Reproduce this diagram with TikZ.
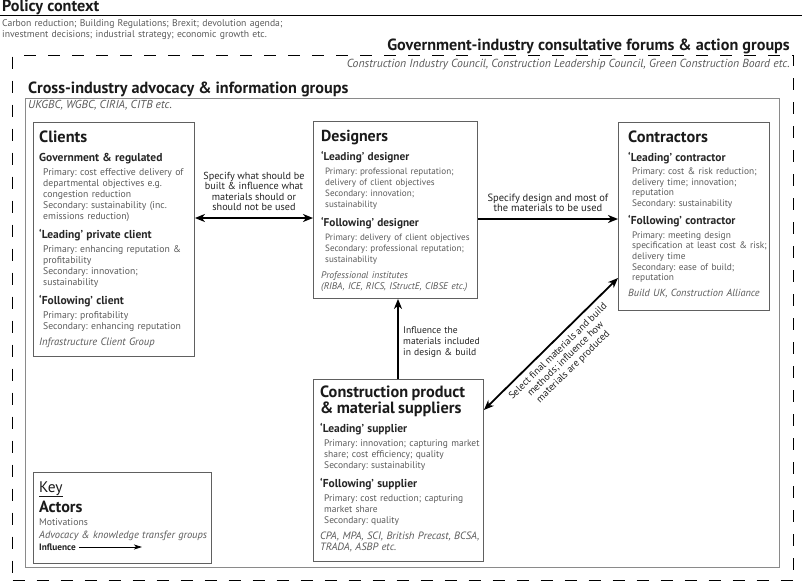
\documentclass[tikz,border=0pt]{standalone}
\usepackage{fontspec}
\setmainfont{PT Sans}
\usetikzlibrary{arrows.meta}
\frenchspacing
\definecolor{ttlc}{HTML}{1A1A1A}
\definecolor{hdc}{HTML}{262626}
\definecolor{bodyc}{HTML}{5A5A5A}
\definecolor{boxc}{HTML}{606060}
\definecolor{outc}{HTML}{8A8A8A}
\definecolor{labc}{HTML}{222222}
\newcommand\tsz{16.3}
\newcommand\hsz{11.5}
\newcommand\bsz{9.7}
\newcommand\fsz{10.6}
\newcommand\bskip{11}
\newcommand\bpre{3.5pt}
\newcommand{\Ttl}[1]{{\fontsize{\tsz}{16}\selectfont\bfseries\color{ttlc}#1\par}}
\newcommand{\Hd}[2][18.5pt]{{\fontsize{\hsz}{#1}\selectfont\bfseries\color{hdc}#2\par}}
\newcommand{\Bd}[1]{\vspace{\bpre}{\fontsize{\bsz}{\bskip}\selectfont\color{bodyc}\leftskip=4pt\relax #1\par}}
\newcommand{\Ft}[1]{\vspace{5pt}{\fontsize{\fsz}{11}\selectfont\itshape\color{bodyc}#1\par}}
\begin{document}
\begin{tikzpicture}[x=1pt,y=-1pt,
  actorbox/.style={draw=boxc, line width=0.9pt, anchor=north west, inner sep=0pt},
  boxtext/.style={anchor=base west, inner sep=0pt, align=left, text width=220pt},
  flow/.style={line width=1.8pt, draw=black, -{Stealth[length=10pt,width=8pt,inset=3pt]}},
  flowboth/.style={line width=1.8pt, draw=black, {Stealth[length=10pt,width=8pt,inset=3pt]}-{Stealth[length=10pt,width=8pt,inset=3pt]}},
  lab/.style={font=\fontsize{10.2}{10.6}\selectfont, text=labc, inner sep=0pt},
  keyarrow/.style={line width=0.8pt, -{Stealth[length=8pt,width=5pt,inset=2pt]}}
]
\useasboundingbox (0,0) rectangle (802,587);

% header
\node[anchor=base west, inner sep=0pt, font=\fontsize{16.2}{17}\selectfont\bfseries, text=ttlc] (policy) at (2,11.5) {Policy context};
\draw[line width=1pt] (0,15.7) -- (802,15.7);
\node[anchor=base west, inner sep=0pt, align=left, text width=400pt, font=\fontsize{9.7}{10.7}\selectfont, text=bodyc] (policytext) at (2,26.7)
  {Carbon reduction; Building Regulations; Brexit; devolution agenda;\\investment decisions; industrial strategy; economic growth etc.};

% forums (dashed)
\node[draw=black, line width=1.3pt, dash pattern=on 12pt off 12pt, anchor=north west, inner sep=0pt,
  minimum width=781pt, minimum height=525pt] (forum) at (12,55) {};
\node[anchor=base east, inner sep=0pt, font=\fontsize{16.2}{17}\selectfont\bfseries, text=ttlc] (forumtitle) at (790,50)
  {Government-industry consultative forums \& action groups};
\node[anchor=base east, inner sep=0pt, font=\fontsize{11.7}{12}\selectfont\itshape, text=bodyc] (forumtext) at (790,67)
  {Construction Industry Council, Construction Leadership Council, Green Construction Board etc.};

% cross-industry
\node[anchor=base west, inner sep=0pt, font=\fontsize{16.2}{17}\selectfont\bfseries, text=ttlc] (crosstitle) at (28,93)
  {Cross-industry advocacy \& information groups};
\node[draw=outc, line width=0.9pt, anchor=north west, inner sep=0pt,
  minimum width=754pt, minimum height=469pt] (cross) at (25,98) {};
\node[anchor=base west, inner sep=0pt, font=\fontsize{11.5}{12}\selectfont\itshape, text=bodyc] (crosstext) at (28,108.5)
  {UKGBC, WGBC, CIRIA, CITB etc.};

% actor boxes
\node[actorbox, minimum width=161pt, minimum height=234pt] (clients) at (33,122) {};
\node[actorbox, minimum width=164pt, minimum height=177pt] (designers) at (313,121) {};
\node[actorbox, minimum width=151pt, minimum height=188pt] (contractors) at (618,122) {};
\node[actorbox, minimum width=170pt, minimum height=182pt] (suppliers) at (313,379) {};
\node[actorbox, minimum width=178pt, minimum height=91pt] (key) at (33,472) {};

\node[boxtext] (clientstext) at (39,142) {%
\Ttl{Clients}
\Hd[19pt]{Government \& regulated}
\Bd{Primary: cost effective delivery of\\departmental objectives e.g.\\congestion reduction\\Secondary: sustainability (inc.\\emissions reduction)}
\Hd{‘Leading’ private client}
\Bd{Primary: enhancing reputation \&\\profitability\\Secondary: innovation;\\sustainability}
\Hd{‘Following’ client}
\Bd{Primary: profitability\\Secondary: enhancing reputation}
\Ft{Infrastructure Client Group}};

\node[boxtext] (designerstext) at (321,141) {%
\renewcommand\bsz{9.1}\renewcommand\fsz{9.6}\renewcommand\tsz{15.9}\renewcommand\hsz{11.3}%
\Ttl{Designers}
\Hd[19pt]{‘Leading’ designer}
\Bd{Primary: professional reputation;\\delivery of client objectives\\Secondary: innovation;\\sustainability}
\Hd{‘Following’ designer}
\Bd{Primary: delivery of client objectives\\Secondary: professional reputation;\\sustainability}
\Ft{Professional institutes\\(RIBA, ICE, RICS, IStructE, CIBSE etc.)}};

\node[boxtext] (contractorstext) at (628,142) {%
\renewcommand\bskip{10.7}\renewcommand\bpre{2.8pt}\renewcommand\bsz{9.4}\renewcommand\fsz{10.3}%
\Ttl{Contractors}
\Hd[19pt]{‘Leading’ contractor}
\Bd{Primary: cost \& risk reduction;\\delivery time; innovation;\\reputation\\Secondary: sustainability}
\Hd[18pt]{‘Following’ contractor}
\Bd{Primary: meeting design\\specification at least cost \& risk;\\delivery time\\Secondary: ease of build;\\reputation}
\Ft{Build UK, Construction Alliance}};

\node[boxtext] (supplierstext) at (320,397) {%
\renewcommand\bsz{9.5}%
\Ttl{Construction product\\\& material suppliers}
\Hd[19pt]{‘Leading’ supplier}
\Bd{Primary: innovation; capturing market\\share; cost efficiency; quality\\Secondary: sustainability}
\Hd{‘Following’ supplier}
\Bd{Primary: cost reduction; capturing\\market share\\Secondary: quality}
\Ft{CPA, MPA, SCI, British Precast, BCSA,\\TRADA, ASBP etc.}};

% key
\node[boxtext] (keytext) at (39,492) {%
{\fontsize{15.4}{16}\selectfont\color{ttlc}\underline{Key}\par}
{\fontsize{16.2}{20}\selectfont\bfseries\color{ttlc}Actors\par}
{\fontsize{9.7}{13}\selectfont\color{bodyc}Motivations\par}
{\fontsize{10.5}{13}\selectfont\itshape\color{bodyc}Advocacy \& knowledge transfer groups\par}};
\node[anchor=base west, inner sep=0pt, font=\fontsize{9.3}{10}\selectfont\bfseries, text=labc] (infl) at (39,550) {Influence};
\coordinate (keyend) at (142,547);
\draw[keyarrow] ([xshift=3pt]infl.east |- keyend) -- (keyend);

% connectors
\draw[flowboth] (clients.east |- 0,218) -- (designers.west |- 0,218)
  node[midway, lab, above=6pt, align=center] (lab1) {Specify what should be\\built \& influence what\\materials should or\\should not be used};
\draw[flow] (designers.east |- 0,219) -- (contractors.west |- 0,219)
  node[midway, lab, font=\fontsize{10.5}{10.6}\selectfont, above=6pt, align=center] (lab2) {Specify design and most of\\the materials to be used};
\draw[flow] (suppliers.north -| 398,0) -- (designers.south -| 398,0);
\node[lab, font=\fontsize{9.6}{11}\selectfont, anchor=base west, align=left, text width=90pt] (lab3) at (403,333) {Influence the\\materials included\\in design \& build};
\draw[flowboth] (suppliers.east |- 0,410) -- (contractors.west |- 0,278)
  node[midway, lab, font=\fontsize{10}{10.8}\selectfont, rotate=44.35, anchor=north, inner sep=5pt, align=center] (lab4) {Select final materials and build\\methods; influence how\\materials are produced};
\end{tikzpicture}
\end{document}
